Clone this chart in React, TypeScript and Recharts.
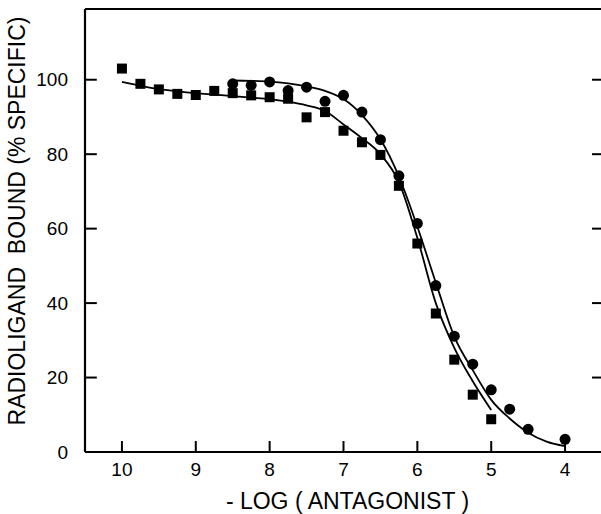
import React from 'react';
import { ComposedChart, Scatter, Line, XAxis, YAxis, ReferenceLine, Label } from 'recharts';

const FONT = '"Liberation Sans", Arial, Helvetica, sans-serif';

// -log [antagonist] and % specific binding
const circleLogs = [8.5, 8.25, 8.0, 7.75, 7.5, 7.25, 7.0, 6.75, 6.5, 6.25, 6.0, 5.75, 5.5, 5.25, 5.0, 4.75, 4.5, 4.0];
const circleBound = [98.9, 98.5, 99.4, 97.1, 98, 94.2, 95.8, 91.3, 83.9, 74.2, 61.4, 44.7, 31.1, 23.6, 16.7, 11.5, 6.1, 3.4];

const squareLogs = [10, 9.75, 9.5, 9.25, 9.0, 8.75, 8.5, 8.25, 8.0, 7.75, 7.5, 7.25, 7.0, 6.75, 6.5, 6.25, 6.0, 5.75, 5.5, 5.25, 5.0];
const squareBound = [103, 98.9, 97.4, 96.2, 95.9, 97, 96.4, 95.8, 95.3, 94.9, 89.9, 91.3, 86.3, 83.2, 79.8, 71.5, 56, 37.2, 24.8, 15.4, 8.8];

// fitted curves, traced by eye
const circleFitLogs = [8.5, 8.25, 8, 7.75, 7.5, 7.25, 7, 6.75, 6.5, 6.25, 6, 5.75, 5.5, 5.25, 5, 4.75, 4.5, 4.25, 4];
const circleFit = [99.8, 99.7, 99.5, 99, 98.2, 97, 94.8, 90.5, 84, 74, 60.5, 45.5, 31, 22, 14, 9, 5.2, 2.8, 1.6];

const squareFitLogs = [10, 9.75, 9.5, 9.25, 9, 8.75, 8.5, 8.25, 8, 7.75, 7.5, 7.25, 7, 6.75, 6.5, 6.25, 6, 5.75, 5.5, 5.25, 5];
const squareFit = [99.4, 98.4, 97.5, 96.9, 96.4, 96, 95.6, 95.2, 94.8, 94.1, 93.1, 91.6, 88, 84.3, 80, 72.5, 57.5, 40, 28, 19, 11.3];

const xTicks = [10, 9, 8, 7, 6, 5, 4];
const yTicks = [0, 20, 40, 60, 80, 100];
const yRightTicks = [20, 40, 60, 80, 100];
const X_MIN = 3.5;
const X_MAX = 10.5;
const Y_MAX = 119;
// inward tick lengths, in data units
const X_TICK_LEN = 2.95;
const Y_TICK_LEN = 0.16;
const R_TICK_LEN = 0.135;

const zip = (xs: number[], ys: number[]) => xs.map((x, i) => ({ x, y: ys[i] }));

const circles = zip(circleLogs, circleBound);
const squares = zip(squareLogs, squareBound);
const circleCurve = zip(circleFitLogs, circleFit);
const squareCurve = zip(squareFitLogs, squareFit);

const CircleDot = (p: any) => <circle cx={p.cx} cy={p.cy} r={5.5} fill="#000" />;
const SquareDot = (p: any) => <rect x={p.cx - 5} y={p.cy - 5} width={10} height={10} fill="#000" />;

const tickStyle = { fill: '#000', fontSize: 19, fontFamily: FONT };

export default function App() {
  return (
    <div style={{ position: 'absolute', left: 0, top: 0, width: 601, height: 514, overflow: 'hidden', background: '#fff' }}>
      <ComposedChart width={620} height={514} margin={{ top: 9, right: 0, bottom: 0, left: 0 }}>
        <XAxis
          type="number"
          dataKey="x"
          domain={[X_MIN, X_MAX]}
          reversed
          ticks={xTicks}
          allowDataOverflow
          height={62}
          tickSize={0}
          tickMargin={11}
          tick={tickStyle}
          tickLine={false}
          axisLine={{ stroke: '#000', strokeWidth: 2.2 }}
        >
          <Label
            content={(props: any) => {
              const vb = props.viewBox;
              return (
                <text x={vb.x + vb.width / 2 + 4} y={509} textAnchor="middle" fontSize={23} fontFamily={FONT} fill="#000">
                  - LOG ( ANTAGONIST )
                </text>
              );
            }}
          />
        </XAxis>
        <YAxis
          type="number"
          domain={[0, Y_MAX]}
          ticks={yTicks}
          allowDataOverflow
          width={85}
          tickSize={0}
          tickMargin={17}
          tick={tickStyle}
          tickLine={false}
          axisLine={{ stroke: '#000', strokeWidth: 2.2 }}
        >
          <Label
            content={() => (
              <text x={24.5} y={221} transform="rotate(-90, 24.5, 221)" textAnchor="middle" fontSize={23} fontFamily={FONT} fill="#000">
                {'RADIOLIGAND\u00A0\u00A0BOUND (% SPECIFIC)'}
              </text>
            )}
          />
        </YAxis>
        <YAxis
          yAxisId="right"
          orientation="right"
          type="number"
          domain={[0, Y_MAX]}
          ticks={yRightTicks}
          width={18}
          tick={false}
          tickLine={false}
          axisLine={{ stroke: '#000', strokeWidth: 2 }}
        />
        <ReferenceLine y={Y_MAX} stroke="#000" strokeWidth={2} />
        {xTicks.map((t) => (
          <ReferenceLine key={`xt${t}`} segment={[{ x: t, y: 0 }, { x: t, y: X_TICK_LEN }]} stroke="#000" strokeWidth={2} />
        ))}
        {yTicks.map((t) => (
          <ReferenceLine key={`yt${t}`} segment={[{ x: X_MAX, y: t }, { x: X_MAX - Y_TICK_LEN, y: t }]} stroke="#000" strokeWidth={2} />
        ))}
        {yRightTicks.map((t) => (
          <ReferenceLine key={`rt${t}`} segment={[{ x: X_MIN, y: t }, { x: X_MIN + R_TICK_LEN, y: t }]} stroke="#000" strokeWidth={2} />
        ))}
        <Line data={circleCurve} dataKey="y" type="monotone" stroke="#000" strokeWidth={1.8} dot={false} isAnimationActive={false} />
        <Line data={squareCurve} dataKey="y" type="monotone" stroke="#000" strokeWidth={1.8} dot={false} isAnimationActive={false} />
        <Scatter data={circles} dataKey="y" shape={CircleDot} isAnimationActive={false} />
        <Scatter data={squares} dataKey="y" shape={SquareDot} isAnimationActive={false} />
      </ComposedChart>
    </div>
  );
}
